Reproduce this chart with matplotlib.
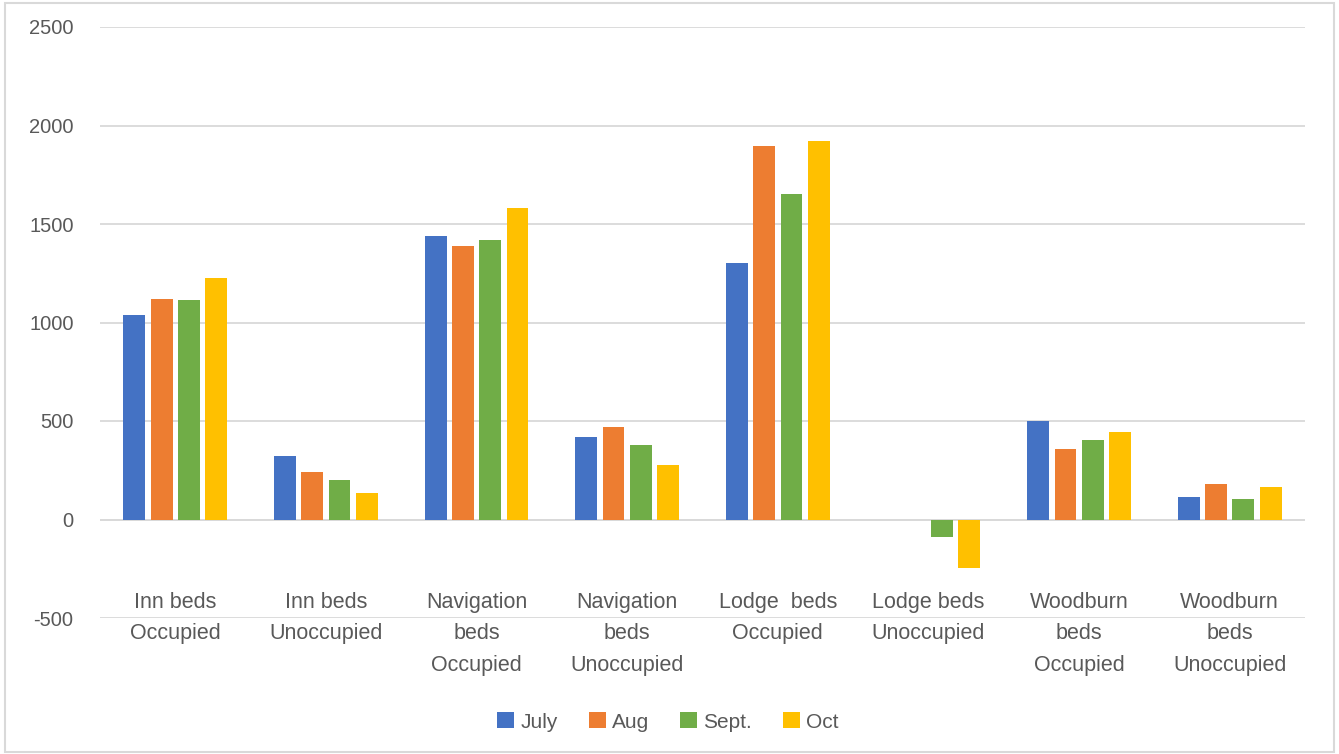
import matplotlib.pyplot as plt
import matplotlib.transforms as mtransforms
import numpy as np
from matplotlib.patches import Rectangle, Patch

# Category labels and monthly values
categories = ["Inn beds\nOccupied", "Inn beds\nUnoccupied", "Navigation\nbeds\nOccupied",
              "Navigation\nbeds\nUnoccupied", "Lodge  beds\nOccupied", "Lodge beds\nUnoccupied",
              "Woodburn\nbeds\nOccupied", "Woodburn\nbeds\nUnoccupied"]
months = ["July", "Aug", "Sept.", "Oct"]
july = [1040, 320, 1440, 420, 1300, 0, 500, 115]
aug = [1120, 240, 1390, 470, 1895, 0, 360, 180]
sept = [1115, 200, 1420, 380, 1650, -90, 405, 105]
oct_ = [1225, 135, 1580, 275, 1920, -245, 445, 165]
colors = ["#4472C4", "#ED7D31", "#70AD47", "#FFC000"]

plt.rcParams['font.family'] = ['Liberation Sans', 'DejaVu Sans']
plt.rcParams['axes.unicode_minus'] = False

fig = plt.figure(figsize=(13.39, 7.54), dpi=100)
ax = fig.add_axes([100 / 1339, 1 - 618 / 754, 1205 / 1339, 591 / 754])

# Light gray frame around the whole chart
fig.patches.append(Rectangle((5 / 1339, 2 / 754), 1329 / 1339, 749 / 754, transform=fig.transFigure,
                             fill=False, edgecolor="#d9d9d9", linewidth=1.5))

x = np.arange(len(categories))
step = 0.181
width = 0.145
for i, (vals, c) in enumerate(zip([july, aug, sept, oct_], colors)):
    ax.bar(x + (i - 1.5) * step, vals, width=width, color=c, zorder=3)

ax.set_xlim(-0.5, len(categories) - 0.5)
ax.set_ylim(-500, 2500)
ax.set_yticks(np.arange(-500, 2501, 500))
ax.yaxis.grid(True, color="#d9d9d9", linewidth=1.3, zorder=0)
ax.tick_params(axis="y", length=0, pad=19, labelsize=14.5, labelcolor="#595959")
ax.tick_params(axis="x", length=0, labelbottom=False)
for s in ax.spines.values():
    s.set_visible(False)
ax.axhline(0, color="#d9d9d9", linewidth=1.3, zorder=2)

# Category labels sit just above the -500 line
trans = mtransforms.blended_transform_factory(ax.transData, fig.transFigure)
for xi, lab in zip(x, categories):
    ax.text(xi, 1 - 592 / 754, lab, transform=trans, ha="center", va="top",
            fontsize=15.5, color="#595959", linespacing=1.65)

handles = [Patch(facecolor=c, label=m) for c, m in zip(colors, months)]
fig.legend(handles=handles, loc="center", bbox_to_anchor=(668 / 1339, 1 - 722 / 754), ncol=4,
           frameon=False, fontsize=15, labelcolor="#595959", handlelength=0.8, handleheight=0.8,
           handletextpad=0.3, columnspacing=1.5)

fig.savefig("out.png", dpi=100)
